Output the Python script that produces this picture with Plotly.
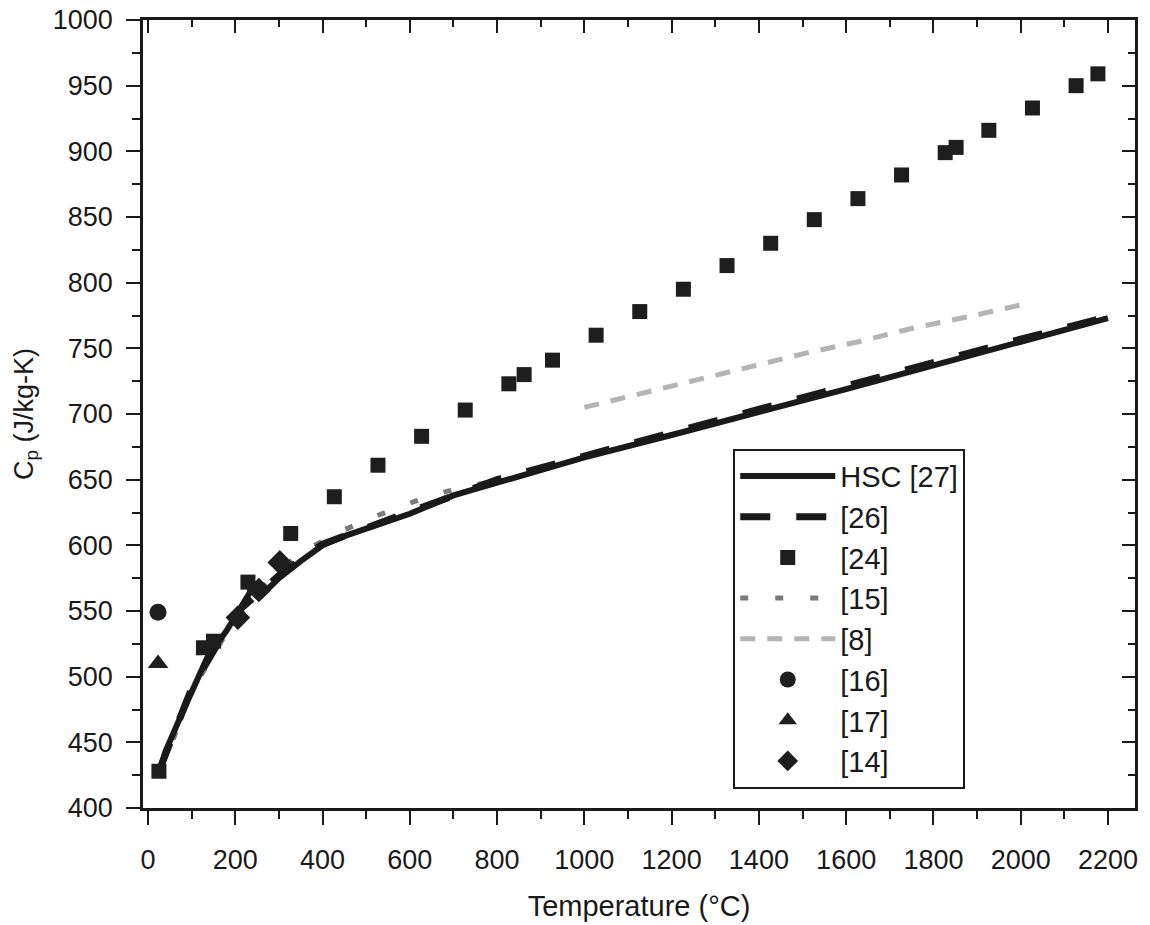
import plotly.graph_objects as go

# ---------------- data ----------------
hsc_T = [25, 40, 75, 100, 135, 180, 210, 235, 260, 300, 350, 400, 450, 500, 600, 700, 800,
         900, 1000, 1200, 1400, 1600, 1800, 2000, 2200]
hsc_cp = [427, 443, 470, 489, 514, 535, 551, 565, 562, 575, 588, 600, 607, 613, 624, 638, 648,
          657, 667, 684, 701, 719, 737, 755, 773]

ref26_T = [25, 100, 200, 300, 400, 600, 800, 1000, 1200, 1400, 1600, 1800, 2000, 2200]
ref26_cp = [428, 491, 548, 577, 601, 626, 650, 668, 686, 703, 721, 739, 757, 774]

ref24_T = [25, 127, 150, 229, 327, 427, 527, 627, 727, 827, 862, 927, 1027, 1127, 1227,
           1327, 1427, 1527, 1627, 1727, 1827, 1852, 1927, 2027, 2127, 2177]
ref24_cp = [428, 522, 527, 572, 609, 637, 661, 683, 703, 723, 730, 741, 760, 778, 795,
            813, 830, 848, 864, 882, 899, 903, 916, 933, 950, 959]

ref15_T = [25, 40, 70, 100, 150, 190, 270, 345, 425, 505, 590, 670, 750, 790]
ref15_cp = [428, 437, 463, 490, 516, 540, 571, 593, 608, 620, 631, 640, 646, 649]

ref8_T = [1000, 1135, 1257, 1387, 1510, 1628, 1754, 1879, 2000]
ref8_cp = [705, 716, 726, 737, 746.5, 755, 765.5, 774, 783]

ref16_T = [23]
ref16_cp = [549]

ref17_T = [23]
ref17_cp = [510]

ref14_T = [206, 254, 302]
ref14_cp = [545, 566, 587]

x_ticks = [0, 200, 400, 600, 800, 1000, 1200, 1400, 1600, 1800, 2000, 2200]
y_ticks = [400, 450, 500, 550, 600, 650, 700, 750, 800, 850, 900, 950, 1000]

# ---------------- figure ----------------
FONT = "Liberation Sans, Arial, sans-serif"
INK = "#1a1a1a"
fig = go.Figure()

fig.add_trace(go.Scatter(x=ref15_T, y=ref15_cp, mode="lines", name="[15]",
                         line=dict(color="#7a7a7a", width=5, dash="8px,27px")))
fig.add_trace(go.Scatter(x=ref26_T, y=ref26_cp, mode="lines", name="[26]",
                         line=dict(color=INK, width=7, dash="30px,26px")))
fig.add_trace(go.Scatter(x=hsc_T, y=hsc_cp, mode="lines", name="HSC [27]",
                         line=dict(color=INK, width=6)))
fig.add_trace(go.Scatter(x=ref8_T, y=ref8_cp, mode="lines", name="[8]",
                         line=dict(color="#b4b4b4", width=5, dash="15px,12px")))
fig.add_trace(go.Scatter(x=ref24_T, y=ref24_cp, mode="markers", name="[24]",
                         marker=dict(symbol="square", size=15, color="#1e1e1e",
                                     line=dict(width=0))))
fig.add_trace(go.Scatter(x=ref16_T, y=ref16_cp, mode="markers", name="[16]",
                         marker=dict(symbol="circle", size=17, color="#1e1e1e",
                                     line=dict(width=0))))
fig.add_trace(go.Scatter(x=ref17_T, y=ref17_cp, mode="markers", name="[17]",
                         marker=dict(symbol="triangle-up", size=18, color="#1e1e1e",
                                     line=dict(width=0))))
fig.add_trace(go.Scatter(x=ref14_T, y=ref14_cp, mode="markers", name="[14]",
                         marker=dict(symbol="diamond", size=19, color="#1e1e1e",
                                     line=dict(width=0))))

# legend order as in reference
order = {"HSC [27]": 1, "[26]": 2, "[24]": 3, "[15]": 4, "[8]": 5, "[16]": 6, "[17]": 7, "[14]": 8}
for tr in fig.data:
    tr.legendrank = order[tr.name]

xr = [-11.5, 2262]
yr = [400, 1000]

fig.update_layout(
    width=1150, height=925,
    margin=dict(l=143, r=15, t=20, b=117, autoexpand=False),
    paper_bgcolor="white", plot_bgcolor="white",
    font=dict(family=FONT, size=27, color=INK),
    showlegend=True,
    legend=dict(x=0.595, y=0.456, xanchor="left", yanchor="top",
                bgcolor="white", bordercolor=INK, borderwidth=2,
                font=dict(size=29, family=FONT), itemwidth=95,
                traceorder="normal"),
    xaxis=dict(range=xr, tickvals=x_ticks, showgrid=False, zeroline=False, automargin=False,
               showline=True, linecolor=INK, linewidth=2.5,
               ticks="outside", ticklen=14, tickwidth=2, tickcolor=INK,
               minor=dict(dtick=100, tick0=0, ticks="outside", ticklen=8, tickwidth=2,
                          tickcolor=INK, showgrid=False),
               ticklabelstandoff=12,
               tickfont=dict(size=27),
               title=dict(text="Temperature (°C)", font=dict(size=29), standoff=22)),
    yaxis=dict(range=yr, tickvals=y_ticks, showgrid=False, zeroline=False, automargin=False,
               showline=True, linecolor=INK, linewidth=2.5,
               ticks="outside", ticklen=14, tickwidth=2, tickcolor=INK,
               minor=dict(dtick=25, tick0=400, ticks="outside", ticklen=8, tickwidth=2,
                          tickcolor=INK, showgrid=False),
               ticklabelstandoff=8,
               tickfont=dict(size=27),
               title=dict(text="C<sub>p</sub> (J/kg-K)", font=dict(size=27), standoff=12)),
    xaxis2=dict(range=xr, overlaying="x", side="top", tickvals=x_ticks, showgrid=False,
                zeroline=False, showline=True, linecolor=INK, linewidth=2.5, automargin=False,
                ticks="inside", ticklen=13, tickwidth=2, tickcolor=INK,
                showticklabels=False,
                minor=dict(dtick=100, tick0=0, ticks="inside", ticklen=7, tickwidth=2,
                           tickcolor=INK, showgrid=False)),
    yaxis2=dict(range=yr, overlaying="y", side="right", tickvals=y_ticks, showgrid=False,
                zeroline=False, showline=True, linecolor=INK, linewidth=2.5, automargin=False,
                ticks="inside", ticklen=13, tickwidth=2, tickcolor=INK,
                showticklabels=False,
                minor=dict(dtick=25, tick0=400, ticks="inside", ticklen=7, tickwidth=2,
                           tickcolor=INK, showgrid=False)),
)

# invisible helper trace so the mirrored (top/right) axes are rendered
fig.add_trace(go.Scatter(x=[xr[0]], y=[yr[0]], xaxis="x2", yaxis="y2", mode="markers",
                         marker=dict(opacity=0), showlegend=False, hoverinfo="skip"))

fig.write_html("out.html")
